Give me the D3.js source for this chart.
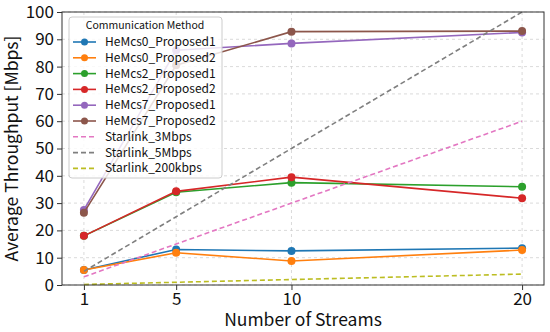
<!DOCTYPE html>
<html>
  <head>
    <title>Throughput vs streams</title>
    <script src="https://d3js.org/d3.v7.min.js"></script>
    <style>
      body { margin: 0; background: #fff; }
      text { font-family: "Noto Sans CJK JP", "Noto Sans", sans-serif; fill: #111; }
      .grid line { stroke: #d0d0d0; stroke-dasharray: 3,3; stroke-width: 0.8px; }
      .axis .domain { display: none; }
      .axis .tick line { stroke: #333; }
      .axis .tick text { font-size: 17px; }
      .axis__label { font-size: 17.5px; text-anchor: middle; }
      .legend text { font-size: 12px; }
    </style>
  </head>
  <body>
    <svg width="550" height="332"></svg>
    <script>
      const streams = [1, 5, 10, 20];
      const xTicks = [1, 5, 10, 20];
      const yTicks = [0, 10, 20, 30, 40, 50, 60, 70, 80, 90, 100];

      const seriesNames = [
        "HeMcs0_Proposed1", "HeMcs0_Proposed2",
        "HeMcs2_Proposed1", "HeMcs2_Proposed2",
        "HeMcs7_Proposed1", "HeMcs7_Proposed2",
        "Starlink_3Mbps", "Starlink_5Mbps", "Starlink_200kbps"
      ];
      const hemcs0p1 = [5.5, 13.0, 12.5, 13.5];
      const hemcs0p2 = [5.5, 11.8, 8.8, 12.8];
      const hemcs2p1 = [18.0, 34.0, 37.5, 36.0];
      const hemcs2p2 = [18.0, 34.3, 39.5, 31.8];
      const hemcs7p1 = [27.5, 86.0, 88.5, 92.5];
      const hemcs7p2 = [26.5, 80.5, 92.8, 93.0];
      const starlink3 = [3, 15, 30, 60];
      const starlink5 = [5, 25, 50, 100];
      const starlink200k = [0.2, 1, 2, 4];

      const colors = ["#1f77b4", "#ff7f0e", "#2ca02c", "#d62728", "#9467bd",
                      "#8c564b", "#e377c2", "#7f7f7f", "#bcbd22"];
      const values = [hemcs0p1, hemcs0p2, hemcs2p1, hemcs2p2, hemcs7p1, hemcs7p2,
                      starlink3, starlink5, starlink200k];
      const dashed = [false, false, false, false, false, false, true, true, true];

      const margin = {top: 12, right: 6, bottom: 47, left: 62};
      const svg = d3.select("svg");
      const width = +svg.attr("width");
      const height = +svg.attr("height");
      const innerWidth = width - margin.left - margin.right;
      const innerHeight = height - margin.top - margin.bottom;

      const xScale = d3.scaleLinear().domain([0.05, 20.95]).range([0, innerWidth]);
      const yScale = d3.scaleLinear().domain([0, 100]).range([innerHeight, 0]);

      const g = svg.append("g")
          .attr("transform", `translate(${margin.left}, ${margin.top})`);

      // grid
      g.append("g").attr("class", "grid")
        .selectAll("line").data(xTicks).enter().append("line")
          .attr("x1", d => xScale(d)).attr("x2", d => xScale(d))
          .attr("y1", 0).attr("y2", innerHeight);
      g.append("g").attr("class", "grid")
        .selectAll("line").data(yTicks).enter().append("line")
          .attr("y1", d => yScale(d)).attr("y2", d => yScale(d))
          .attr("x1", 0).attr("x2", innerWidth);

      const xAxisG = g.append("g").attr("class", "axis")
          .attr("transform", `translate(0, ${innerHeight})`)
          .call(d3.axisBottom(xScale).tickValues(xTicks).tickSize(5).tickPadding(3));
      const yAxisG = g.append("g").attr("class", "axis")
          .call(d3.axisLeft(yScale).tickValues(yTicks).tickSize(5).tickPadding(3));

      const line = d3.line()
        .x((d, i) => xScale(streams[i]))
        .y(d => yScale(d));

      seriesNames.forEach((name, k) => {
        g.append("path")
          .datum(values[k])
          .attr("fill", "none")
          .attr("stroke", colors[k])
          .attr("stroke-width", 1.6)
          .attr("stroke-dasharray", dashed[k] ? "5,3" : null)
          .attr("d", line);
        if (!dashed[k]) {
          g.selectAll(null).data(values[k]).enter().append("circle")
            .attr("cx", (d, i) => xScale(streams[i]))
            .attr("cy", d => yScale(d))
            .attr("r", 4)
            .attr("fill", colors[k]);
        }
      });

      // frame
      g.append("rect")
        .attr("width", innerWidth).attr("height", innerHeight)
        .attr("fill", "none").attr("stroke", "#333").attr("stroke-width", 1);

      xAxisG.append("text").attr("class", "axis__label")
        .attr("x", innerWidth / 2).attr("y", 41)
        .text("Number of Streams");
      yAxisG.append("text").attr("class", "axis__label")
        .attr("transform", "rotate(-90)")
        .attr("x", -innerHeight / 2).attr("y", -44)
        .text("Average Throughput [Mbps]");

      // legend
      const lg = svg.append("g").attr("class", "legend")
          .attr("transform", "translate(69, 17)");
      lg.append("rect")
        .attr("width", 153).attr("height", 161).attr("rx", 3)
        .attr("fill", "rgba(255,255,255,0.82)").attr("stroke", "#ccc");
      lg.append("text").attr("x", 76).attr("y", 12)
        .attr("text-anchor", "middle").style("font-size", "10.5px")
        .text("Communication Method");
      seriesNames.forEach((name, k) => {
        const y = 25 + k * 15.8;
        lg.append("line")
          .attr("x1", 4).attr("x2", 27).attr("y1", y).attr("y2", y)
          .attr("stroke", colors[k]).attr("stroke-width", 1.6)
          .attr("stroke-dasharray", dashed[k] ? "5,3" : null);
        if (!dashed[k]) {
          lg.append("circle").attr("cx", 15.5).attr("cy", y).attr("r", 3.5)
            .attr("fill", colors[k]);
        }
        lg.append("text").attr("x", 36).attr("y", y + 4).text(name);
      });
    </script>
  </body>
</html>
